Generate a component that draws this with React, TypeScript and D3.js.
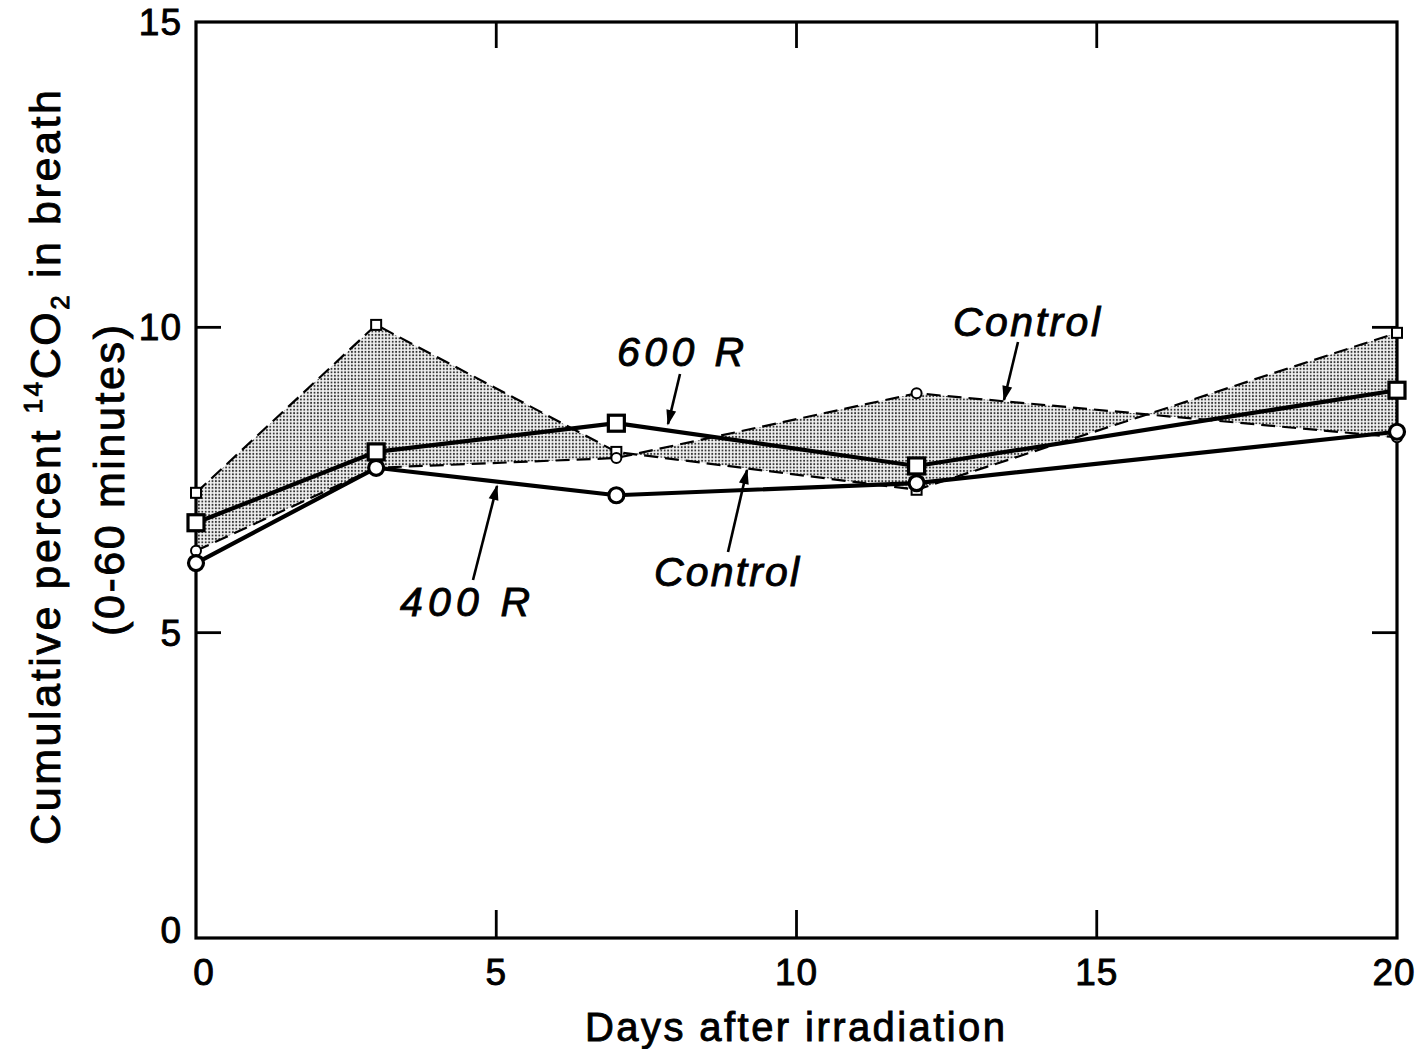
import React from "react";
import * as d3 from "d3";

const days = [0, 3, 7, 12, 20];
const controlA = [7.29, 10.04, 7.96, 7.34, 9.91]; // dashed, small squares
const controlB = [6.34, 7.7, 7.86, 8.92, 8.2]; // dashed, small circles
const r600 = [6.8, 7.96, 8.43, 7.73, 8.97]; // solid, large squares
const r400 = [6.14, 7.7, 7.25, 7.45, 8.29]; // solid, large circles
const xTicks = [0, 5, 10, 15, 20];
const yTicks = [0, 5, 10, 15];

const W = 1421;
const H = 1049;
const FONT = "'Liberation Sans', Arial, Helvetica, sans-serif";

export default function App() {
  const x = d3.scaleLinear().domain([0, 20]).range([196, 1397]);
  const y = d3.scaleLinear().domain([0, 15]).range([938, 22]);
  const [x0, x1] = x.range();
  const [yb, yt] = y.range();

  const pts = (vals: number[]) => days.map((d, i) => [d, vals[i]] as [number, number]);
  const line = d3
    .line<[number, number]>()
    .x((d) => x(d[0]))
    .y((d) => y(d[1]));
  const area = d3
    .area<number>()
    .x((d) => x(d))
    .y0((_, i) => y(controlB[i]))
    .y1((_, i) => y(controlA[i]));

  const inner = [5, 10, 15];
  const innerY = [5, 10];

  const arrows = [
    { from: [680, 374], to: [668, 424] },
    { from: [1018, 342], to: [1004, 400] },
    { from: [728, 552], to: [747, 470] },
    { from: [473, 580], to: [497, 486] },
  ];

  const txt = { stroke: "#000", strokeWidth: 0.9, fill: "#000" };

  return (
    <svg
      width={W}
      height={H}
      style={{ position: "absolute", left: 0, top: 0, background: "#fff" }}
      fontFamily={FONT}
    >
      <defs>
        <pattern id="stip" width="3.4" height="3.4" patternUnits="userSpaceOnUse">
          <rect width="3.4" height="3.4" fill="#f2f2f2" />
          <circle cx="1.7" cy="1.7" r="1.0" fill="#333" />
        </pattern>
        <marker
          id="arr"
          viewBox="0 0 10 10"
          refX="9"
          refY="5"
          markerWidth="7"
          markerHeight="6"
          markerUnits="strokeWidth"
          orient="auto"
        >
          <path d="M0,1.8 L10,5 L0,8.2 Z" fill="#000" />
        </marker>
      </defs>
      <rect width={W} height={H} fill="#fff" />

      {/* shaded region between the two control curves */}
      <path d={area(days) || ""} fill="url(#stip)" stroke="none" />

      {/* control dashed lines */}
      <path d={line(pts(controlA)) || ""} fill="none" stroke="#000" strokeWidth={2.2} strokeDasharray="14,7" />
      <path d={line(pts(controlB)) || ""} fill="none" stroke="#000" strokeWidth={2.2} strokeDasharray="14,7" />

      {/* treatment lines */}
      <path d={line(pts(r400)) || ""} fill="none" stroke="#000" strokeWidth={4.2} />
      <path d={line(pts(r600)) || ""} fill="none" stroke="#000" strokeWidth={4.2} />

      {/* axes frame */}
      <rect x={x0} y={yt} width={x1 - x0} height={yb - yt} fill="none" stroke="#000" strokeWidth={3.2} />
      {inner.map((t) => (
        <g key={"xt" + t}>
          <line x1={x(t)} x2={x(t)} y1={yb} y2={yb - 28} stroke="#000" strokeWidth={2.8} />
          <line x1={x(t)} x2={x(t)} y1={yt} y2={yt + 26} stroke="#000" strokeWidth={2.8} />
        </g>
      ))}
      {innerY.map((t) => (
        <g key={"yt" + t}>
          <line x1={x0} x2={x0 + 25} y1={y(t)} y2={y(t)} stroke="#000" strokeWidth={2.8} />
          <line x1={x1} x2={x1 - 25} y1={y(t)} y2={y(t)} stroke="#000" strokeWidth={2.8} />
        </g>
      ))}

      {/* markers */}
      {days.map((d, i) => (
        <g key={"m" + d}>
          <rect x={x(d) - 5} y={y(controlA[i]) - 5} width={10} height={10} fill="#fff" stroke="#000" strokeWidth={2} />
          <circle cx={x(d)} cy={y(controlB[i])} r={5} fill="#fff" stroke="#000" strokeWidth={2} />
          <circle cx={x(d)} cy={y(r400[i])} r={7.5} fill="#fff" stroke="#000" strokeWidth={3.2} />
          <rect x={x(d) - 8} y={y(r600[i]) - 8} width={16} height={16} fill="#fff" stroke="#000" strokeWidth={3.2} />
        </g>
      ))}

      {/* tick labels */}
      {xTicks.map((t) => (
        <text key={"xl" + t} {...txt} x={x(t) + (t === 0 ? 8 : t === 20 ? -3 : 0)} y={985} fontSize={37} textAnchor="middle" letterSpacing={1}>
          {t}
        </text>
      ))}
      {yTicks.map((t) => (
        <text key={"yl" + t} {...txt} x={182} y={y(t) + 13 - (t === 0 ? 8 : 0)} fontSize={37} textAnchor="end" letterSpacing={1}>
          {t}
        </text>
      ))}

      {/* axis titles */}
      <text {...txt} x={585} y={1041} fontSize={40} textLength={420} lengthAdjust="spacing">
        Days after irradiation
      </text>
      <text {...txt} transform="translate(60,845) rotate(-90)" fontSize={43} textLength={755} lengthAdjust="spacing">
        Cumulative percent <tspan fontSize={26} dy={-18}>14</tspan>
        <tspan dy={18}>CO</tspan>
        <tspan fontSize={26} dy={9}>2</tspan>
        <tspan dy={-9}> in breath</tspan>
      </text>
      <text {...txt} transform="translate(124,636) rotate(-90)" fontSize={43} textLength={311} lengthAdjust="spacing">
        (0-60 minutes)
      </text>

      {/* annotations */}
      <text {...txt} x={617} y={366} fontSize={41} fontStyle="italic" textLength={127} lengthAdjust="spacing">
        600 R
      </text>
      <text {...txt} x={953} y={336} fontSize={41} fontStyle="italic" textLength={147} lengthAdjust="spacing">
        Control
      </text>
      <text {...txt} x={654} y={586} fontSize={41} fontStyle="italic" textLength={145} lengthAdjust="spacing">
        Control
      </text>
      <text {...txt} x={400} y={616} fontSize={41} fontStyle="italic" textLength={130} lengthAdjust="spacing">
        400 R
      </text>
      {arrows.map((a, i) => (
        <line
          key={"a" + i}
          x1={a.from[0]}
          y1={a.from[1]}
          x2={a.to[0]}
          y2={a.to[1]}
          stroke="#000"
          strokeWidth={2.6}
          markerEnd="url(#arr)"
        />
      ))}
    </svg>
  );
}
